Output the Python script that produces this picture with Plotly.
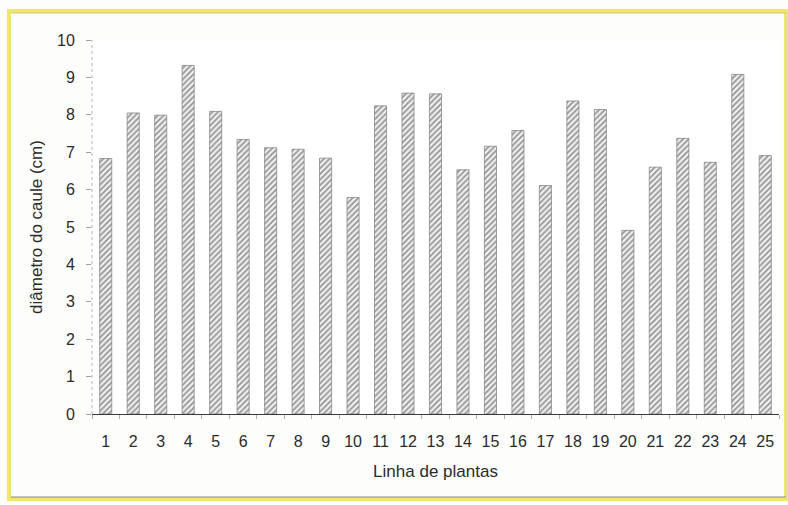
import plotly.graph_objects as go

# Stem diameter per plant row
linhas = [str(i) for i in range(1, 26)]
diametro = [6.83, 8.05, 7.99, 9.32, 8.09, 7.34, 7.12, 7.08, 6.84, 5.79,
            8.24, 8.58, 8.56, 6.53, 7.16, 7.58, 6.11, 8.37, 8.14, 4.91,
            6.60, 7.37, 6.73, 9.08, 6.91]
y_ticks = list(range(0, 11))

FONT = "Liberation Sans, Arial, sans-serif"
TXT = "#2b2b2b"

fig = go.Figure(
    go.Bar(
        x=linhas,
        y=diametro,
        width=0.44,
        marker=dict(
            color="#eeeeee",
            line=dict(color="#7a7a7a", width=0.7),
            pattern=dict(shape="/", fgcolor="#3a3a3a", bgcolor="#f0f0f0",
                         size=4, solidity=0.45),
        ),
        hoverinfo="x+y",
    )
)

fig.update_layout(
    width=788,
    height=505,
    margin=dict(l=92, r=9, t=40, b=91),
    paper_bgcolor="#fdfdfb",
    plot_bgcolor="white",
    showlegend=False,
    font=dict(family=FONT, size=16, color=TXT),
    bargap=0.56,
)

fig.update_xaxes(
    type="category",
    range=[-0.5, 24.5],
    showgrid=False,
    showline=True,
    linecolor="#3a3a3a",
    linewidth=1,
    ticks="outside",
    tickson="boundaries",
    ticklen=4,
    tickcolor="#b0b0b0",
    ticklabelstandoff=13,
    tickfont=dict(family=FONT, size=16, color=TXT),
    title=dict(text="Linha de plantas", standoff=15,
               font=dict(family=FONT, size=17, color=TXT)),
    zeroline=False,
)

fig.update_yaxes(
    range=[0, 10],
    tickvals=y_ticks,
    showgrid=False,
    showline=False,
    zeroline=False,
    ticks="outside",
    ticklen=5,
    tickcolor="#a0a0a0",
    ticklabelstandoff=8,
    tickfont=dict(family=FONT, size=16, color=TXT),
    title=dict(text="diâmetro do caule (cm)", standoff=10,
               font=dict(family=FONT, size=17, color=TXT)),
)

# dotted vertical value axis
fig.add_shape(type="line", xref="paper", yref="paper", x0=0, x1=0, y0=0, y1=1,
              line=dict(color="#b5b5b5", width=1, dash="dot"))

# page frame: yellow on top, left and bottom, thin grey inner edge
px = lambda v: (v - 92) / 687
py = lambda v: (414 - v) / 374
fig.add_shape(type="rect", xref="paper", yref="paper",
              x0=px(9), x1=px(786), y0=py(499), y1=py(11),
              line=dict(color="#f2e66a", width=4), layer="below")
fig.add_shape(type="line", xref="paper", yref="paper",
              x0=px(11), x1=px(786), y0=py(13), y1=py(13),
              line=dict(color="#cfc78a", width=1))
fig.add_shape(type="line", xref="paper", yref="paper",
              x0=px(11), x1=px(786), y0=py(497), y1=py(497),
              line=dict(color="#8a8a80", width=1.2))
fig.add_shape(type="line", xref="paper", yref="paper",
              x0=px(786), x1=px(786), y0=py(497), y1=py(13),
              line=dict(color="#d5d5d0", width=1))

fig.write_html("out.html")
